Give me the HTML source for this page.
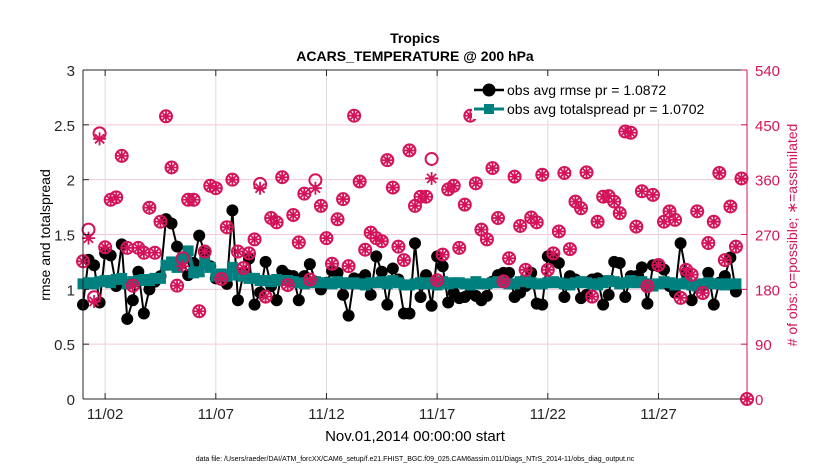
<!DOCTYPE html>
<html><head><meta charset="utf-8">
<style>
html,body{margin:0;padding:0;background:#fff;}
svg{display:block;font-family:"Liberation Sans",Arial,sans-serif;}
</style></head>
<body>
<svg id="chart" width="830" height="470" viewBox="0 0 830 470" xmlns="http://www.w3.org/2000/svg">
<rect x="0" y="0" width="830" height="470" fill="#fff"/>
<text x="415" y="43" text-anchor="middle" font-size="14" font-weight="bold">Tropics</text>
<text x="415" y="61" text-anchor="middle" font-size="14" font-weight="bold">ACARS_TEMPERATURE @ 200 hPa</text>
<g id="grid"></g>
<g id="marks"></g>
<g id="axes"></g>
<text x="0" y="0" transform="translate(50,235) rotate(-90)" text-anchor="middle" font-size="14">rmse and totalspread</text>
<text x="0" y="0" transform="translate(797,235) rotate(-90)" text-anchor="middle" font-size="14" fill="#d4145a"># of obs: o=possible; ∗=assimilated</text>
<text x="415" y="441" text-anchor="middle" font-size="15">Nov.01,2014 00:00:00 start</text>
<text x="415" y="461" text-anchor="middle" font-size="7">data file: /Users/raeder/DAI/ATM_forcXX/CAM6_setup/f.e21.FHIST_BGC.f09_025.CAM6assim.011/Diags_NTrS_2014-11/obs_diag_output.nc</text>
<g id="legend">
  <rect x="472" y="76" width="270" height="43" fill="#fff"/>
  <line x1="474" y1="90" x2="504" y2="90" stroke="#000" stroke-width="2.5"/>
  <circle cx="489" cy="90" r="6.5" fill="#000"/>
  <text x="507" y="95" font-size="14">obs avg rmse pr = 1.0872</text>
  <line x1="474" y1="109" x2="504" y2="109" stroke="#00807f" stroke-width="3"/>
  <rect x="484" y="104" width="10" height="10" fill="#00807f"/>
  <text x="507" y="114" font-size="14">obs avg totalspread pr = 1.0702</text>
</g>
</svg>
<script>
const rmse = [0.86,1.27,1.22,0.88,1.33,1.31,1.03,1.41,0.73,0.9,1.16,0.78,1.0,1.07,1.12,1.64,1.6,1.39,1.27,1.13,1.24,1.49,1.33,1.21,1.10,1.13,1.05,1.72,0.9,1.15,1.28,0.86,0.97,1.25,1.03,0.9,1.17,1.13,1.12,0.9,1.12,1.23,1.07,1.0,1.06,1.17,1.15,0.95,0.76,1.1,1.09,1.13,0.95,1.3,1.16,0.86,1.19,1.09,0.78,
0.78,1.42,0.93,1.13,0.85,1.3,1.21,0.88,0.97,0.92,0.93,0.97,0.94,0.9,0.94,1.07,1.13,1.15,1.15,0.93,0.97,1.03,1.15,0.87,0.86,1.3,1.28,1.24,0.93,1.12,1.09,0.92,0.95,1.09,1.1,0.86,0.95,1.25,1.24,0.93,1.12,1.12,1.2,0.87,1.22,1.21,1.18,1.03,0.97,1.42,1.15,0.9,1.03,1.03,1.15,0.86,1.06,1.12,1.29,0.98];
const spread = [1.05,1.06,1.05,1.07,1.08,1.06,1.09,1.1,1.05,1.07,1.08,1.09,1.08,1.1,1.1,1.22,1.25,1.2,1.28,1.35,1.15,1.16,1.25,1.2,1.12,1.14,1.12,1.2,1.13,1.12,1.1,1.1,1.08,1.08,1.07,1.09,1.08,1.08,1.07,1.06,1.05,1.06,1.07,1.06,1.06,1.05,1.07,1.06,1.05,1.06,1.05,1.04,1.06,1.06,1.07,1.05,1.08,1.06,1.04,
1.04,1.05,1.06,1.05,1.06,1.04,1.07,1.05,1.06,1.06,1.05,1.04,1.07,1.05,1.05,1.06,1.07,1.06,1.05,1.05,1.07,1.08,1.06,1.05,1.05,1.06,1.07,1.06,1.05,1.04,1.06,1.07,1.06,1.05,1.04,1.06,1.08,1.07,1.05,1.06,1.08,1.06,1.07,1.05,1.03,1.05,1.07,1.06,1.04,1.05,1.06,1.04,1.03,1.05,1.06,1.05,1.05,1.04,1.05,1.05];
const possible = [226,278,167,436,249,327,331,399,248,186,248,240,314,240,291,464,380,186,231,327,327,144,242,350,346,197,282,360,242,215,239,262,353,168,297,290,364,187,302,257,337,196,359,317,264,222,295,328,218,465,357,245,273,264,259,392,347,250,228,
408,317,332,332,394,195,237,344,350,248,319,465,354,278,262,379,297,193,231,365,284,212,298,290,368,212,239,275,371,246,324,313,372,168,291,332,333,324,305,439,437,283,341,185,335,220,291,308,294,166,212,204,308,174,256,291,371,228,316,250,362,0];
const assimilated = [226,264,160,427,249,327,331,399,248,186,248,240,314,240,291,464,380,186,218,327,327,144,242,350,346,197,282,360,242,215,239,262,346,168,297,290,364,187,302,257,337,196,346,317,264,222,295,328,218,465,357,245,273,264,259,392,347,250,228,
408,317,332,332,362,195,237,344,350,248,319,465,354,278,262,379,297,193,231,365,284,212,298,290,368,212,239,275,371,246,324,313,372,168,291,332,333,324,305,439,437,283,341,185,335,220,291,308,294,166,212,204,308,174,256,291,371,228,316,250,362,0];
const xTickDays = [1,6,11,16,21,26];
const xTickLabels = ["11/02","11/07","11/12","11/17","11/22","11/27"];
const yTicks = [0,0.5,1,1.5,2,2.5,3];
const yTickLabels = ["0","0.5","1","1.5","2","2.5","3"];
const rTicks = [0,90,180,270,360,450,540];

const L=83,R=747,T=70,B=399;
const NS="http://www.w3.org/2000/svg";
const RED="#d4145a",TEAL="#00807f";
function xScale(i){return L+(i*0.25)*(R-L)/30;}
function xDay(d){return L+d*(R-L)/30;}
function yScale(v){return B-v*(B-T)/3;}
function rScale(c){return B-c*(B-T)/540;}
function mk(tag,attrs,parent){const e=document.createElementNS(NS,tag);for(const k in attrs)e.setAttribute(k,attrs[k]);parent.appendChild(e);return e;}

const grid=document.getElementById('grid'),marks=document.getElementById('marks'),axes=document.getElementById('axes');
yTicks.forEach((v,k)=>{ if(v>0&&v<3){const g=mk('line',{x1:L,x2:R,y1:yScale(v),y2:yScale(v),stroke:"#f4c6d6","stroke-width":1},grid);

}});
xTickDays.forEach(d=>{const g=mk('line',{x1:xDay(d),x2:xDay(d),y1:T,y2:B,stroke:"#dcdcdc","stroke-width":1},grid);

});

let pts=rmse.map((v,i)=>xScale(i)+","+yScale(v)).join(" ");
const rl=mk('polyline',{points:pts,fill:"none",stroke:"#000","stroke-width":2},marks);


rmse.forEach((v,i)=>{const c=mk('circle',{cx:xScale(i),cy:yScale(v),r:6,fill:"#000"},marks);

});
pts=spread.map((v,i)=>xScale(i)+","+yScale(v)).join(" ");
const sl=mk('polyline',{points:pts,fill:"none",stroke:TEAL,"stroke-width":4},marks);


spread.forEach((v,i)=>{const r=mk('rect',{x:xScale(i)-5.5,y:yScale(v)-5.5,width:11,height:11,fill:TEAL},marks);

});
possible.forEach((c,i)=>{const o=mk('circle',{cx:xScale(i),cy:rScale(c),r:6,fill:"none",stroke:RED,"stroke-width":2},marks);

});
assimilated.forEach((c,i)=>{const cx=xScale(i),cy=rScale(c);
let d="";for(let a=0;a<4;a++){const t=a*Math.PI/4+Math.PI/2;const dx=6.5*Math.cos(t),dy=6.5*Math.sin(t);d+="M"+(cx-dx)+","+(cy-dy)+"L"+(cx+dx)+","+(cy+dy);}
const s=mk('path',{d:d,stroke:RED,"stroke-width":1.8,fill:"none"},marks);

});

mk('line',{x1:L,x2:R,y1:T,y2:T,stroke:"#262626","stroke-width":1},axes);
mk('line',{x1:L,x2:R,y1:B,y2:B,stroke:"#262626","stroke-width":1},axes);
mk('line',{x1:L,x2:L,y1:T,y2:B,stroke:"#262626","stroke-width":1},axes);
mk('line',{x1:R,x2:R,y1:T,y2:B,stroke:RED,"stroke-width":1},axes);
yTicks.forEach((v,k)=>{const y=yScale(v);
mk('line',{x1:L,x2:L+6,y1:y,y2:y,stroke:"#262626"},axes);
const t=mk('text',{x:L-8,y:y+6,"text-anchor":"end","font-size":15,fill:"#262626"},axes);t.textContent=yTickLabels[k];

});
rTicks.forEach(c=>{const y=rScale(c);
mk('line',{x1:R-6,x2:R,y1:y,y2:y,stroke:RED},axes);
const t=mk('text',{x:R+8,y:y+6,"font-size":15,fill:RED},axes);t.textContent=String(c);

});
xTickDays.forEach((d,k)=>{const x=xDay(d);
mk('line',{x1:x,x2:x,y1:B,y2:B-6,stroke:"#262626"},axes);
mk('line',{x1:x,x2:x,y1:T,y2:T+6,stroke:"#262626"},axes);
const t=mk('text',{x:x,y:B+20,"text-anchor":"middle","font-size":15,fill:"#262626"},axes);t.textContent=xTickLabels[k];

});
</script>
</body></html>
